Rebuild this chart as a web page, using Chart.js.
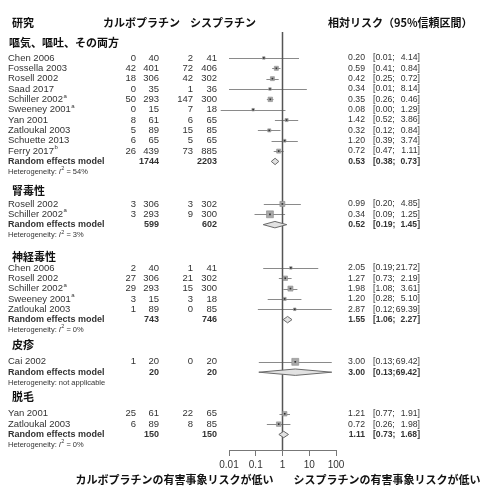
<!DOCTYPE html>
<html><head><meta charset="utf-8">
<script src="https://cdn.jsdelivr.net/npm/chart.js@4"></script>
<style>html,body{margin:0;padding:0;background:#fff;overflow:hidden}#wrap{width:489px;height:489px;position:relative}</style>
</head><body><div id="wrap"><canvas id="c" width="489" height="489"></canvas></div>
<script>
// ---------- data ----------
const sectionTitles = ['嘔気、嘔吐、その両方','腎毒性','神経毒性','皮疹','脱毛'];
const studySection = [0,0,0,0,0,0,0,0,0,0, 1,1, 2,2,2,2,2, 3, 4,4];
const studyNames = ['Chen 2006','Fossella 2003','Rosell 2002','Saad 2017','Schiller 2002','Sweeney 2001','Yan 2001','Zatloukal 2003','Schuette 2013','Ferry 2017',
  'Rosell 2002','Schiller 2002',
  'Chen 2006','Rosell 2002','Schiller 2002','Sweeney 2001','Zatloukal 2003',
  'Cai 2002',
  'Yan 2001','Zatloukal 2003'];
const studyNotes = ['','','','','a','a','','','','b', '','a', '','','a','a','', '', '',''];
const carboEvents = [0,42,18,0,50,0,8,5,6,26, 3,3, 2,27,29,3,1, 1, 25,6];
const carboTotal  = [40,401,306,35,293,15,61,89,65,439, 306,293, 40,306,293,15,89, 20, 61,89];
const cisEvents   = [2,72,42,1,147,7,6,15,5,73, 3,9, 1,21,15,3,0, 0, 22,8];
const cisTotal    = [41,406,302,36,300,18,65,85,65,885, 302,300, 41,302,300,18,85, 20, 65,85];
const riskRatio = [0.20,0.59,0.42,0.34,0.35,0.08,1.42,0.32,1.20,0.72, 0.99,0.34, 2.05,1.27,1.98,1.20,2.87, 3.00, 1.21,0.72];
const ciLow  = [0.01,0.41,0.25,0.01,0.26,0.0049,0.52,0.12,0.39,0.47, 0.20,0.09, 0.19,0.73,1.08,0.28,0.12, 0.13, 0.77,0.26];
const ciHigh = [4.14,0.84,0.72,8.14,0.46,1.29,3.86,0.84,3.74,1.11, 4.85,1.25, 21.72,2.19,3.61,5.10,69.39, 69.42, 1.91,1.98];
const studyWeight = [1,14,13,1,20,1,4,4,2,14, 30,80, 1,20,30,4,1, 80, 20,20];
const pooledRR   = [0.53,0.52,1.55,3.00,1.11];
const pooledLow  = [0.38,0.19,1.06,0.13,0.73];
const pooledHigh = [0.73,1.45,2.27,69.42,1.68];
const pooledCarboN = [1744,599,743,20,150];
const pooledCisN   = [2203,602,746,20,150];
const heterogeneityI2 = ['54%','3%','0%',null,'0%'];
const xTicks = [0.01,0.1,1,10,100];

// ---------- layout (row units) ----------
const headerRow = -0.87;
const sectionHeaderRow = [1.06,15.36,21.74,30.24,35.27];
const sectionFirstRow  = [2.51,16.62,22.8,31.88,36.9];
const sectionHeaderX   = [9,12,12,12,12];
const Y_MAX = 40.4;

const studyRow = [];
const sectionCount = sectionTitles.map(()=>0);
studySection.forEach((s,i)=>{ studyRow.push(sectionFirstRow[s] + sectionCount[s]); sectionCount[s]++; });
const pooledRow = sectionFirstRow.map((r,s)=> r + sectionCount[s]);
const hetRow = pooledRow.map(r=> r + 1);

const markerSide = w => 2 + 5.5*Math.sqrt(w/100);

const FONT = '"Liberation Sans", Arial, sans-serif';
const JFONT = '"Noto Sans CJK JP", sans-serif';

const forestPlugin = {
  id:'forest',
  beforeDatasetsDraw(chart){
    const {ctx, scales:{x,y}} = chart;
    ctx.save();
    ctx.strokeStyle = '#8a8a8a'; ctx.lineWidth = 1;
    riskRatio.forEach((v,i)=>{
      const py = Math.round(y.getPixelForValue(studyRow[i])) + 0.5;
      ctx.beginPath();
      ctx.moveTo(x.getPixelForValue(ciLow[i]), py);
      ctx.lineTo(x.getPixelForValue(ciHigh[i]), py);
      ctx.stroke();
    });
    ctx.restore();
  },
  afterDatasetsDraw(chart){
    const {ctx, scales:{x,y}} = chart;
    ctx.save();
    pooledRR.forEach((v,s)=>{
      const py = y.getPixelForValue(pooledRow[s]);
      const l = x.getPixelForValue(pooledLow[s]), r = x.getPixelForValue(pooledHigh[s]), c = x.getPixelForValue(v);
      ctx.beginPath();
      ctx.moveTo(l, py); ctx.lineTo(c, py-3.2); ctx.lineTo(r, py); ctx.lineTo(c, py+3.2); ctx.closePath();
      ctx.fillStyle = '#e2e2e2'; ctx.fill();
      ctx.strokeStyle = '#6a6a6a'; ctx.lineWidth = 1; ctx.stroke();
    });
    ctx.restore();
  },
  afterDraw(chart){
    const {ctx, scales:{x,y}, chartArea} = chart;
    ctx.save();
    ctx.textBaseline = 'middle';
    const Y = r => y.getPixelForValue(r);
    // headers
    ctx.fillStyle = '#111';
    ctx.font = 'bold 11px ' + JFONT;
    ctx.textAlign = 'left';
    ctx.fillText('研究', 12, Y(headerRow));
    ctx.fillText('カルボプラチン', 103, Y(headerRow));
    ctx.fillText('シスプラチン', 190, Y(headerRow));
    ctx.fillText('相対リスク（95%信頼区間）', 328, Y(headerRow));
    sectionTitles.forEach((t,s)=> ctx.fillText(t, sectionHeaderX[s], Y(sectionHeaderRow[s])));
    // studies
    const fmt = v => v.toFixed(2);
    const drawCI = (lo, hi, est, py, bold) => {
      ctx.font = (bold?'bold 8.6px ':'8.7px ') + FONT;
      ctx.textAlign = 'right'; ctx.fillText(fmt(est), 365, py);
      ctx.textAlign = 'left'; ctx.fillText('[' + fmt(lo) + ';', 373, py);
      ctx.textAlign = 'right'; ctx.fillText(fmt(hi) + ']', 420, py);
    };
    ctx.fillStyle = '#333';
    studyNames.forEach((n,i)=>{
      const py = Y(studyRow[i]);
      ctx.font = '9.5px ' + FONT; ctx.textAlign = 'left';
      ctx.fillText(n, 8, py);
      if (studyNotes[i]) {
        const w = ctx.measureText(n).width;
        ctx.font = '6px ' + FONT;
        ctx.fillText(studyNotes[i], 8 + w + 0.5, py - 3.5);
        ctx.font = '9.5px ' + FONT;
      }
      ctx.textAlign = 'right';
      ctx.fillText(String(carboEvents[i]), 136, py);
      ctx.fillText(String(carboTotal[i]), 159, py);
      ctx.fillText(String(cisEvents[i]), 193, py);
      ctx.fillText(String(cisTotal[i]), 217, py);
      drawCI(ciLow[i], ciHigh[i], riskRatio[i], py, false);
    });
    pooledRR.forEach((v,s)=>{
      const py = Y(pooledRow[s]);
      ctx.font = 'bold 9px ' + FONT; ctx.textAlign = 'left';
      ctx.fillText('Random effects model', 8, py);
      ctx.textAlign = 'right';
      ctx.fillText(String(pooledCarboN[s]), 159, py);
      ctx.fillText(String(pooledCisN[s]), 217, py);
      drawCI(pooledLow[s], pooledHigh[s], v, py, true);
      // heterogeneity
      const hy = Y(hetRow[s]);
      ctx.textAlign = 'left';
      ctx.font = '7.5px ' + FONT;
      let cx = 8;
      if (heterogeneityI2[s] === null) {
        ctx.fillText('Heterogeneity: not applicable', cx, hy);
      } else {
        const a = 'Heterogeneity: ';
        ctx.fillText(a, cx, hy); cx += ctx.measureText(a).width;
        ctx.font = 'italic 7.5px ' + FONT;
        ctx.fillText('I', cx, hy); cx += ctx.measureText('I').width + 0.3;
        ctx.font = '5.5px ' + FONT;
        ctx.fillText('2', cx, hy - 3); cx += ctx.measureText('2').width;
        ctx.font = '7.5px ' + FONT;
        ctx.fillText(' = ' + heterogeneityI2[s], cx, hy);
      }
    });
    // bottom labels
    ctx.fillStyle = '#111';
    ctx.font = 'bold 11px ' + JFONT;
    const by = chartArea.bottom + 30;
    ctx.textAlign = 'right';
    ctx.fillText('カルボプラチンの有害事象リスクが低い', x.getPixelForValue(1) - 9, by);
    ctx.textAlign = 'left';
    ctx.fillText('シスプラチンの有害事象リスクが低い', x.getPixelForValue(1) + 11, by);
    ctx.restore();
  }
};

new Chart(document.getElementById('c'), {
  data: {
    datasets: [
      { type:'line', data:[{x:1,y:-0.05},{x:1,y:Y_MAX}], borderColor:'#555', borderWidth:1.5, pointRadius:0, order:3 },
      { type:'scatter', data: riskRatio.map((v,i)=>({x:v, y:studyRow[i]})),
        pointStyle:'rect', pointRadius: studyWeight.map(w=> markerSide(w)/1.414),
        backgroundColor:'#a9a9a9', borderColor:'#8a8a8a', borderWidth:0.6, order:2 },
      { type:'scatter', data: riskRatio.map((v,i)=>({x:v, y:studyRow[i]})),
        pointStyle:'rect', pointRadius: 1.2, backgroundColor:'#333', borderWidth:0, order:1 }
    ]
  },
  options: {
    responsive:false, animation:false, events:[], devicePixelRatio:1,
    layout:{ padding:{ left:229, right:153, top:32, bottom:0 } },
    plugins:{ legend:{display:false}, tooltip:{enabled:false} },
    scales:{
      x:{ type:'logarithmic', min:0.01, max:100, position:'bottom',
        afterBuildTicks: s => { s.ticks = xTicks.map(v=>({value:v})); },
        afterFit: s => { s.height = 39; },
        ticks:{ callback: v => String(v), autoSkip:false, maxRotation:0, padding:3, color:'#333', font:{family:FONT, size:10} },
        grid:{ display:true, drawOnChartArea:false, drawTicks:true, tickLength:6, color:'#777', lineWidth:1 },
        border:{ display:true, color:'#777', width:1 } },
      y:{ type:'linear', min:0, max:Y_MAX, reverse:true, display:false }
    }
  },
  plugins:[forestPlugin]
});
</script></body></html>
